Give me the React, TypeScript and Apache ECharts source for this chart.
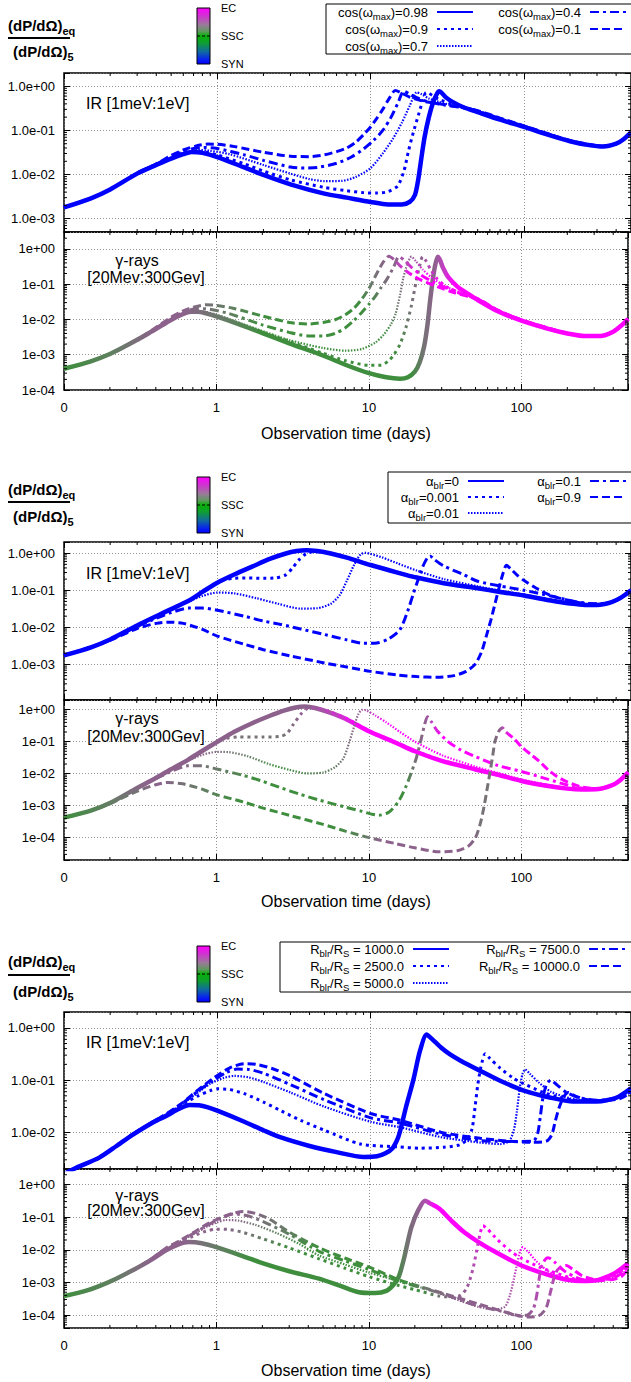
import React, { useEffect, useRef } from 'react';
import * as echarts from 'echarts';

const FONT = '"Liberation Sans", Arial, Helvetica, sans-serif';
const X_MIN = 0.1;
const X_MAX = 500;

// ---------------- legend names ----------------
const P1_NAMES = ['cos(ωmax)=0.98', 'cos(ωmax)=0.9', 'cos(ωmax)=0.7', 'cos(ωmax)=0.4', 'cos(ωmax)=0.1'];
const P1_LABELS = ['{a|cos(ω}{s|max}{a|)=0.98}', '{a|cos(ω}{s|max}{a|)=0.9}', '{a|cos(ω}{s|max}{a|)=0.7}', '{a|cos(ω}{s|max}{a|)=0.4}', '{a|cos(ω}{s|max}{a|)=0.1}'];
const P2_NAMES = ['αblr=0', 'αblr=0.001', 'αblr=0.01', 'αblr=0.1', 'αblr=0.9'];
const P2_LABELS = ['{a|α}{s|blr}{a|=0}', '{a|α}{s|blr}{a|=0.001}', '{a|α}{s|blr}{a|=0.01}', '{a|α}{s|blr}{a|=0.1}', '{a|α}{s|blr}{a|=0.9}'];
const P3_NAMES = ['Rblr/RS = 1000.0', 'Rblr/RS = 2500.0', 'Rblr/RS = 5000.0', 'Rblr/RS = 7500.0', 'Rblr/RS = 10000.0'];
const P3_LABELS = ['{a|R}{s|blr}{a|/R}{s|S}{a| = 1000.0}', '{a|R}{s|blr}{a|/R}{s|S}{a| = 2500.0}', '{a|R}{s|blr}{a|/R}{s|S}{a| = 5000.0}', '{a|R}{s|blr}{a|/R}{s|S}{a| = 7500.0}', '{a|R}{s|blr}{a|/R}{s|S}{a| = 10000.0}'];

// ---------------- panel 1 : IR ----------------
const P1_IR_A = [[0.1,1.8e-3],[0.15,2.9e-3],[0.2,4.6e-3],[0.3,0.0105],[0.4,0.0165],[0.5,0.023],[0.6,0.029],[0.68,0.0325],[0.8,0.031],[1,0.025],[1.5,0.0145],[2,0.0098],[3,0.006],[5,0.0037],[7,0.003],[10,0.0024],[13,0.0021],[16,0.0021],[18,0.0024],[19.5,0.0035],[20.5,0.008],[21.5,0.025],[22.5,0.07],[24,0.2],[25.5,0.42],[27,0.66],[28,0.77],[29,0.72],[31,0.56],[34,0.45],[40,0.34],[50,0.26],[70,0.175],[100,0.12],[150,0.076],[200,0.057],[260,0.047],[330,0.043],[400,0.05],[450,0.064],[500,0.09]];
const P1_IR_B = [[0.1,1.8e-3],[0.15,2.9e-3],[0.2,4.6e-3],[0.3,0.0105],[0.4,0.0167],[0.5,0.0235],[0.6,0.03],[0.7,0.0335],[0.85,0.032],[1,0.028],[1.5,0.0175],[2,0.012],[3,0.0076],[5,0.0051],[7,0.0043],[9,0.0039],[11,0.0038],[13,0.0041],[15,0.0055],[16.5,0.012],[17.7,0.035],[19,0.09],[20.5,0.22],[22,0.5],[23,0.72],[24,0.7],[26,0.58],[29,0.48],[33,0.41],[40,0.345],[50,0.265],[70,0.178],[100,0.121],[150,0.077],[200,0.057],[260,0.047],[330,0.043],[400,0.05],[450,0.064],[500,0.09]];
const P1_IR_C = [[0.1,1.8e-3],[0.15,2.9e-3],[0.2,4.6e-3],[0.3,0.0106],[0.4,0.017],[0.5,0.0245],[0.6,0.031],[0.75,0.036],[0.9,0.0345],[1.2,0.029],[2,0.0165],[3,0.0105],[4,0.0079],[5,0.0071],[6.5,0.0072],[8,0.0088],[10,0.014],[12,0.03],[14,0.065],[16,0.15],[18,0.36],[20,0.73],[21.5,0.66],[24,0.53],[28,0.44],[34,0.37],[42,0.32],[50,0.272],[70,0.182],[100,0.123],[150,0.078],[200,0.058],[260,0.048],[330,0.044],[400,0.05],[450,0.065],[500,0.09]];
const P1_IR_D = [[0.1,1.8e-3],[0.15,2.9e-3],[0.2,4.6e-3],[0.3,0.0107],[0.4,0.0172],[0.5,0.0255],[0.6,0.033],[0.7,0.039],[0.82,0.041],[1,0.039],[1.5,0.028],[2,0.021],[3,0.0148],[3.7,0.014],[4.5,0.0145],[6,0.018],[7.5,0.025],[9,0.038],[10.5,0.06],[12,0.1],[13.5,0.19],[15,0.4],[16.5,0.78],[18,0.66],[20,0.55],[24,0.44],[30,0.38],[40,0.33],[50,0.275],[70,0.185],[100,0.125],[150,0.079],[200,0.058],[260,0.048],[330,0.044],[400,0.05],[450,0.065],[500,0.09]];
const P1_IR_E = [[0.1,1.8e-3],[0.15,2.9e-3],[0.2,4.6e-3],[0.3,0.0108],[0.4,0.0175],[0.5,0.027],[0.6,0.036],[0.72,0.044],[0.87,0.049],[1,0.0485],[1.3,0.043],[2,0.032],[3,0.026],[4,0.0255],[5,0.028],[6,0.033],[7,0.04],[8,0.054],[9,0.08],[10,0.12],[11,0.19],[12,0.3],[13,0.48],[14.5,0.8],[16,0.7],[18,0.57],[22,0.46],[28,0.4],[36,0.35],[50,0.28],[70,0.19],[100,0.127],[150,0.08],[200,0.059],[260,0.049],[330,0.044],[400,0.05],[450,0.065],[500,0.09]];

// ---------------- panel 1 : gamma ----------------
const P1_G_A = [[0.1,4e-4],[0.15,6.5e-4],[0.2,1.05e-3],[0.25,1.7e-3],[0.3,2.6e-3],[0.35,3.8e-3],[0.4,5.3e-3],[0.5,0.0095],[0.6,0.014],[0.68,0.0165],[0.75,0.0165],[0.85,0.015],[1,0.0122],[1.5,0.0066],[2,0.0041],[3,0.0021],[5,0.00095],[7,0.00052],[10,0.0003],[13,0.00023],[16,0.00021],[18,0.00023],[20,0.00033],[21.5,0.0006],[23,0.0017],[24.2,0.007],[25.2,0.035],[26.2,0.13],[27.2,0.35],[28.3,0.6],[29.3,0.48],[30.5,0.3],[33,0.16],[38,0.085],[45,0.052],[52,0.035],[70,0.017],[100,0.0092],[150,0.0054],[200,0.004],[260,0.0034],[330,0.0034],[400,0.0045],[450,0.0066],[500,0.0103]];
const P1_G_B = [[0.1,4e-4],[0.15,6.5e-4],[0.2,1.05e-3],[0.25,1.7e-3],[0.3,2.6e-3],[0.35,3.8e-3],[0.4,5.35e-3],[0.5,0.0097],[0.6,0.0145],[0.7,0.0166],[0.85,0.0155],[1,0.0127],[1.5,0.0069],[2,0.0044],[3,0.0024],[5,0.0011],[7,0.00068],[10,0.0005],[12,0.0005],[13.5,0.00068],[14.6,0.001],[16,0.002],[17.5,0.006],[19,0.025],[20.4,0.12],[21.5,0.33],[22.5,0.6],[23.7,0.45],[25.5,0.25],[28,0.14],[32,0.085],[40,0.055],[52,0.036],[70,0.0175],[100,0.0094],[150,0.0055],[200,0.004],[260,0.0034],[330,0.0034],[400,0.0045],[450,0.0066],[500,0.0103]];
const P1_G_C = [[0.1,4e-4],[0.15,6.5e-4],[0.2,1.05e-3],[0.25,1.7e-3],[0.3,2.6e-3],[0.35,3.85e-3],[0.4,5.4e-3],[0.5,0.0099],[0.6,0.015],[0.72,0.0172],[0.85,0.0162],[1,0.0138],[1.5,0.0073],[2,0.0047],[3,0.0026],[5,0.00155],[7,0.0013],[9,0.00145],[11,0.0022],[12.5,0.0037],[14,0.0075],[15,0.015],[16,0.05],[16.8,0.15],[17.8,0.36],[19,0.6],[20.3,0.45],[22.5,0.26],[26,0.15],[32,0.085],[40,0.058],[52,0.037],[70,0.018],[100,0.0095],[150,0.0056],[200,0.004],[260,0.0034],[330,0.0034],[400,0.0045],[450,0.0066],[500,0.0103]];
const P1_G_D = [[0.1,4e-4],[0.15,6.5e-4],[0.2,1.05e-3],[0.25,1.7e-3],[0.3,2.62e-3],[0.35,3.9e-3],[0.4,5.6e-3],[0.5,0.0105],[0.6,0.0157],[0.75,0.0203],[0.9,0.0195],[1.2,0.0148],[2,0.007],[3,0.0043],[4,0.0034],[5,0.0034],[6,0.004],[7,0.0058],[8,0.0095],[9,0.016],[10,0.027],[11,0.045],[12,0.08],[13,0.13],[14.5,0.3],[15.7,0.6],[17,0.48],[19,0.3],[22,0.18],[27,0.11],[34,0.07],[42,0.05],[52,0.037],[70,0.018],[100,0.0096],[150,0.0056],[200,0.004],[260,0.0034],[330,0.0034],[400,0.0045],[450,0.0066],[500,0.0103]];
const P1_G_E = [[0.1,4e-4],[0.15,6.5e-4],[0.2,1.05e-3],[0.25,1.7e-3],[0.3,2.65e-3],[0.35,4e-3],[0.4,5.9e-3],[0.5,0.0113],[0.6,0.0172],[0.7,0.0218],[0.85,0.026],[1,0.025],[1.3,0.0205],[2,0.0125],[3,0.0082],[4,0.0074],[5,0.0082],[6,0.0098],[7,0.0135],[8,0.021],[9,0.038],[10,0.075],[10.6,0.12],[11.5,0.24],[12.5,0.44],[13.5,0.62],[14.6,0.5],[16,0.33],[18.5,0.2],[22,0.13],[28,0.085],[36,0.058],[45,0.045],[52,0.038],[70,0.0185],[100,0.0097],[150,0.0057],[200,0.004],[260,0.0034],[330,0.0034],[400,0.0045],[450,0.0066],[500,0.0103]];

// ---------------- panel 2 : IR ----------------
const P2_IR_A = [[0.1,1.75e-3],[0.15,2.9e-3],[0.2,4.7e-3],[0.3,0.0112],[0.4,0.02],[0.5,0.031],[0.65,0.052],[0.8,0.09],[1,0.16],[1.3,0.27],[1.7,0.44],[2.2,0.7],[2.8,0.98],[3.3,1.14],[3.8,1.2],[4.5,1.14],[5.5,0.98],[7,0.76],[10,0.48],[15,0.3],[20,0.22],[30,0.155],[50,0.113],[70,0.09],[100,0.072],[150,0.053],[200,0.044],[250,0.04],[300,0.04],[370,0.047],[430,0.063],[500,0.1]];
const P2_IR_B = [[0.1,1.75e-3],[0.15,2.9e-3],[0.2,4.7e-3],[0.3,0.0112],[0.4,0.02],[0.5,0.031],[0.65,0.052],[0.8,0.088],[0.95,0.14],[1.1,0.19],[1.3,0.21],[1.6,0.215],[2,0.21],[2.4,0.215],[2.8,0.26],[3.1,0.4],[3.4,0.65],[3.8,0.97],[4.3,1.1],[5,1.06],[5.5,0.99],[7,0.77],[10,0.49],[15,0.305],[20,0.225],[30,0.158],[50,0.115],[70,0.092],[100,0.073],[150,0.054],[200,0.044],[250,0.04],[300,0.04],[370,0.047],[430,0.063],[500,0.1]];
const P2_IR_C = [[0.1,1.75e-3],[0.15,2.9e-3],[0.2,4.7e-3],[0.3,0.0111],[0.4,0.0195],[0.5,0.03],[0.65,0.05],[0.8,0.07],[1,0.087],[1.3,0.082],[1.8,0.061],[2.5,0.043],[3.5,0.032],[4.5,0.033],[5.5,0.043],[6.3,0.075],[7,0.18],[7.8,0.48],[8.6,0.92],[9.3,1.02],[10,0.96],[12,0.76],[15,0.53],[20,0.34],[30,0.2],[50,0.128],[70,0.098],[100,0.077],[150,0.055],[200,0.045],[250,0.041],[300,0.041],[370,0.047],[430,0.063],[500,0.1]];
const P2_IR_D = [[0.1,1.75e-3],[0.15,2.9e-3],[0.2,4.6e-3],[0.3,0.0105],[0.4,0.0175],[0.5,0.025],[0.65,0.033],[0.8,0.033],[1,0.029],[1.5,0.02],[2,0.0148],[2.6,0.012],[3.5,0.009],[5,0.0064],[7,0.0046],[9,0.0037],[11,0.0038],[13,0.0048],[15.5,0.0085],[17.5,0.028],[19,0.08],[20.5,0.2],[22,0.45],[23.5,0.75],[24.5,0.83],[26,0.68],[30,0.45],[40,0.27],[50,0.175],[70,0.13],[100,0.1],[150,0.07],[200,0.053],[250,0.045],[300,0.043],[370,0.048],[430,0.064],[500,0.1]];
const P2_IR_E = [[0.1,1.75e-3],[0.15,2.9e-3],[0.2,4.5e-3],[0.3,0.0093],[0.4,0.0128],[0.48,0.0138],[0.6,0.0128],[0.8,0.0088],[1,0.0058],[1.5,0.0035],[2,0.0025],[3,0.0017],[5,0.0011],[7,0.00085],[10,0.00065],[15,0.00052],[20,0.00047],[27,0.00045],[35,0.0005],[42,0.00065],[48,0.001],[53,0.0022],[57,0.006],[61,0.016],[65,0.045],[69,0.12],[73,0.28],[77,0.47],[82,0.38],[90,0.26],[100,0.185],[120,0.115],[150,0.072],[200,0.052],[250,0.044],[300,0.042],[370,0.047],[430,0.062],[500,0.092]];

// ---------------- panel 2 : gamma ----------------
const P2_G_A = [[0.1,4.2e-4],[0.15,7e-4],[0.2,1.2e-3],[0.3,3.5e-3],[0.4,7.3e-3],[0.5,0.0135],[0.65,0.027],[0.8,0.05],[1,0.095],[1.3,0.2],[1.7,0.37],[2.2,0.62],[2.8,0.95],[3.3,1.17],[3.8,1.25],[4.5,1.1],[5.5,0.82],[7,0.52],[10,0.21],[15,0.092],[20,0.05],[30,0.025],[50,0.0135],[70,0.0092],[100,0.0059],[150,0.0041],[200,0.0034],[250,0.0032],[320,0.0033],[400,0.0045],[450,0.0066],[500,0.0108]];
const P2_G_B = [[0.1,4.2e-4],[0.15,7e-4],[0.2,1.2e-3],[0.3,3.5e-3],[0.4,7.3e-3],[0.5,0.0135],[0.65,0.027],[0.8,0.05],[0.95,0.085],[1.1,0.12],[1.4,0.14],[2,0.14],[2.6,0.145],[2.9,0.18],[3.2,0.35],[3.6,0.75],[3.9,1.05],[4.4,1.12],[5,1.0],[5.5,0.86],[7,0.55],[10,0.22],[15,0.095],[20,0.052],[30,0.026],[50,0.014],[70,0.0095],[100,0.006],[150,0.0042],[200,0.0034],[250,0.0032],[320,0.0033],[400,0.0045],[450,0.0066],[500,0.0108]];
const P2_G_C = [[0.1,4.2e-4],[0.15,7e-4],[0.2,1.2e-3],[0.3,3.5e-3],[0.4,7.2e-3],[0.5,0.013],[0.65,0.025],[0.8,0.038],[1,0.048],[1.2,0.047],[1.6,0.035],[2.2,0.02],[3,0.0132],[3.9,0.0102],[5,0.0108],[6,0.016],[6.8,0.03],[7.4,0.09],[8,0.3],[8.5,0.7],[9,0.98],[9.6,0.95],[11,0.66],[13,0.4],[16,0.2],[20,0.1],[30,0.038],[50,0.0165],[70,0.0105],[100,0.0066],[150,0.0044],[200,0.0035],[250,0.0033],[320,0.0034],[400,0.0046],[450,0.0067],[500,0.011]];
const P2_G_D = [[0.1,4.2e-4],[0.15,7e-4],[0.2,1.2e-3],[0.3,3.4e-3],[0.4,7e-3],[0.5,0.0115],[0.65,0.0175],[0.8,0.0175],[1,0.014],[1.5,0.0088],[2,0.0058],[2.6,0.0037],[3.5,0.0023],[4.7,0.0015],[7,0.0009],[9,0.00066],[11.6,0.0005],[13.5,0.00062],[15.7,0.0014],[17.5,0.004],[19,0.011],[20.5,0.032],[22,0.12],[23.2,0.35],[24.2,0.6],[25.5,0.44],[28,0.22],[33,0.1],[40,0.055],[50,0.034],[70,0.018],[100,0.0117],[150,0.0066],[200,0.0044],[250,0.0035],[320,0.0034],[400,0.0046],[450,0.0067],[500,0.011]];
const P2_G_E = [[0.1,4.2e-4],[0.15,7e-4],[0.2,1.15e-3],[0.3,2.8e-3],[0.4,4.5e-3],[0.48,0.0053],[0.6,0.0048],[0.8,0.0033],[1,0.0022],[1.5,0.0013],[2,0.00085],[3,0.0005],[5,0.00026],[7,0.00016],[10,0.0001],[15,6.5e-5],[20,4.8e-5],[29,3.6e-5],[38,3.9e-5],[45,5.5e-5],[50,1e-4],[54,3e-4],[57,0.001],[60,0.004],[62,0.01],[65,0.04],[67,0.1],[71,0.21],[75,0.27],[79,0.2],[90,0.12],[100,0.07],[115,0.04],[130,0.025],[150,0.013],[170,0.0083],[200,0.0055],[250,0.0038],[320,0.0034],[400,0.0046],[450,0.0067],[500,0.011]];

// ---------------- panel 3 : IR ----------------
const P3_IR_A = [[0.1,1.6e-3],[0.12,2.1e-3],[0.17,3.3e-3],[0.22,5.5e-3],[0.28,9e-3],[0.38,0.0155],[0.47,0.021],[0.56,0.028],[0.66,0.0335],[0.76,0.033],[0.87,0.03],[1,0.026],[1.5,0.016],[2,0.011],[2.6,0.008],[4,0.0055],[6,0.0042],[9,0.0034],[11,0.0035],[12.5,0.004],[13.9,0.005],[15,0.0075],[15.7,0.0115],[17,0.03],[19,0.1],[21,0.36],[23.2,0.74],[25,0.62],[28.8,0.42],[33,0.31],[38.7,0.235],[52,0.15],[70,0.097],[100,0.063],[150,0.046],[210,0.039],[300,0.039],[400,0.046],[500,0.07]];
const P3_IR_B = [[0.1,1.6e-3],[0.12,2.1e-3],[0.17,3.3e-3],[0.22,5.5e-3],[0.28,9.1e-3],[0.38,0.0158],[0.47,0.022],[0.6,0.035],[0.75,0.05],[0.9,0.063],[1,0.068],[1.2,0.066],[1.5,0.055],[2,0.038],[2.6,0.026],[3.5,0.017],[5,0.011],[8.6,0.006],[15,0.0053],[21,0.005],[30,0.0052],[38,0.0058],[43,0.0075],[46,0.012],[48,0.03],[50,0.08],[52.5,0.18],[56,0.32],[60,0.26],[70,0.17],[85,0.11],[100,0.085],[130,0.06],[170,0.047],[220,0.041],[300,0.04],[400,0.046],[500,0.066]];
const P3_IR_C = [[0.1,1.6e-3],[0.12,2.1e-3],[0.17,3.3e-3],[0.22,5.5e-3],[0.28,9.2e-3],[0.38,0.016],[0.47,0.0225],[0.6,0.036],[0.75,0.058],[0.9,0.085],[1.1,0.11],[1.3,0.12],[1.6,0.113],[2,0.092],[3,0.058],[5,0.031],[10,0.016],[15.7,0.0125],[29,0.0081],[52,0.0064],[70,0.006],[80,0.0068],[86,0.011],[90,0.025],[94,0.07],[98,0.13],[102,0.16],[110,0.13],[125,0.09],[150,0.06],[200,0.045],[260,0.04],[330,0.04],[420,0.047],[500,0.064]];
const P3_IR_D = [[0.1,1.6e-3],[0.12,2.1e-3],[0.17,3.3e-3],[0.22,5.5e-3],[0.28,9.2e-3],[0.38,0.016],[0.47,0.0228],[0.6,0.037],[0.75,0.062],[0.95,0.1],[1.15,0.14],[1.35,0.162],[1.6,0.16],[2,0.135],[3,0.082],[5,0.042],[10,0.019],[15.7,0.015],[29,0.0092],[52,0.007],[90,0.0067],[115,0.0068],[123,0.0095],[128,0.02],[133,0.045],[140,0.08],[150,0.1],[165,0.08],[190,0.058],[230,0.046],[300,0.041],[400,0.045],[500,0.06]];
const P3_IR_E = [[0.1,1.6e-3],[0.12,2.1e-3],[0.17,3.3e-3],[0.22,5.5e-3],[0.28,9.2e-3],[0.38,0.016],[0.47,0.023],[0.6,0.038],[0.75,0.065],[0.95,0.11],[1.2,0.17],[1.5,0.205],[1.8,0.2],[2.3,0.165],[3,0.12],[5,0.055],[10,0.023],[15.7,0.017],[29,0.01],[52,0.0077],[80,0.0068],[113,0.0065],[140,0.0068],[152,0.009],[160,0.016],[170,0.03],[182,0.048],[195,0.058],[215,0.05],[250,0.043],[320,0.04],[420,0.044],[500,0.058]];

// ---------------- panel 3 : gamma ----------------
const P3_G_A = [[0.1,3.8e-4],[0.14,5.6e-4],[0.17,7.7e-4],[0.22,1.3e-3],[0.28,2.3e-3],[0.33,3.5e-3],[0.38,5.2e-3],[0.47,0.0098],[0.56,0.0145],[0.66,0.0172],[0.8,0.0158],[1,0.012],[1.5,0.0063],[2,0.0039],[3,0.0022],[4.7,0.0013],[6.5,0.00078],[8.6,0.0005],[11,0.00047],[13,0.00055],[14.5,0.00085],[15.7,0.0015],[17,0.0055],[18,0.018],[19,0.05],[21,0.16],[23.3,0.32],[25,0.27],[29,0.18],[35,0.075],[42,0.035],[52,0.0176],[70,0.0078],[100,0.0033],[150,0.0017],[200,0.0012],[250,0.0011],[320,0.0012],[400,0.0018],[450,0.0026],[500,0.0038]];
const P3_G_B = [[0.1,3.8e-4],[0.14,5.6e-4],[0.17,7.7e-4],[0.22,1.3e-3],[0.28,2.3e-3],[0.33,3.5e-3],[0.38,5.3e-3],[0.47,0.0102],[0.56,0.0158],[0.7,0.026],[0.85,0.037],[1,0.043],[1.2,0.042],[1.5,0.034],[2,0.022],[3,0.0115],[4.7,0.0053],[7,0.0027],[10,0.0015],[15.7,0.0008],[20,0.0006],[29,0.00038],[35,0.00036],[40,0.0004],[44,0.0007],[48,0.0025],[51,0.01],[53.5,0.03],[56,0.055],[60,0.043],[70,0.02],[85,0.009],[100,0.0055],[130,0.003],[170,0.0019],[220,0.0013],[280,0.0011],[350,0.0012],[420,0.0017],[500,0.0034]];
const P3_G_C = [[0.1,3.8e-4],[0.14,5.6e-4],[0.17,7.7e-4],[0.22,1.3e-3],[0.28,2.3e-3],[0.33,3.55e-3],[0.38,5.4e-3],[0.47,0.0106],[0.56,0.0165],[0.7,0.029],[0.85,0.049],[1,0.068],[1.15,0.082],[1.4,0.078],[1.8,0.058],[2.5,0.032],[3.5,0.015],[4.7,0.0067],[7,0.0035],[10,0.002],[15.7,0.0011],[22,0.0007],[29,0.00046],[40,0.00027],[52,0.00018],[67,0.00015],[78,0.00018],[84,0.0004],[89,0.0012],[94,0.004],[98,0.009],[102,0.012],[110,0.009],[125,0.0045],[150,0.0022],[180,0.0015],[230,0.0012],[290,0.0011],[360,0.0012],[430,0.0017],[500,0.0032]];
const P3_G_D = [[0.1,3.8e-4],[0.14,5.6e-4],[0.17,7.7e-4],[0.22,1.3e-3],[0.28,2.3e-3],[0.33,3.6e-3],[0.38,5.5e-3],[0.47,0.0112],[0.56,0.0172],[0.7,0.031],[0.9,0.061],[1.1,0.099],[1.3,0.126],[1.6,0.11],[2,0.075],[3,0.03],[4.7,0.009],[7,0.0045],[10,0.0025],[15.7,0.0011],[29,0.00048],[52,0.00019],[80,0.00012],[95,9.5e-5],[110,0.0001],[120,0.00016],[126,0.0004],[131,0.0014],[136,0.0032],[143,0.005],[150,0.0057],[165,0.0042],[190,0.0023],[230,0.0014],[290,0.0011],[360,0.0012],[430,0.0016],[500,0.0029]];
const P3_G_E = [[0.1,3.8e-4],[0.14,5.6e-4],[0.17,7.7e-4],[0.22,1.3e-3],[0.28,2.3e-3],[0.33,3.65e-3],[0.38,5.6e-3],[0.47,0.0116],[0.56,0.0178],[0.7,0.033],[0.9,0.067],[1.2,0.12],[1.5,0.15],[1.8,0.13],[2.2,0.09],[3,0.035],[4.7,0.0116],[7,0.0055],[10,0.003],[15.7,0.0012],[29,0.0005],[52,0.00022],[80,0.00012],[108,8.7e-5],[130,9.5e-5],[145,0.00016],[155,0.0005],[163,0.0013],[172,0.0024],[185,0.0031],[197,0.0033],[215,0.0026],[250,0.0016],[310,0.0012],[380,0.0012],[450,0.0015],[500,0.0025]];

// ---------------- palette along gamma curves ----------------
const G = '#3e8e3e';
const GG = '#5e805e';
const GR = '#767276';
const PG = '#8c628c';
const PP = '#b848b8';
const M = '#ff00ff';
const EARLY = [[0.1, G], [0.2, GG], [0.28, GR], [0.4, PG], [0.6, PG], [0.85, GR], [1.3, GG], [2, G]];
const P1_C_A = [...EARLY, [19, G], [23, GR], [27, PG], [30, PP], [36, M], [500, M]];
const P1_C_B = [...EARLY, [15, G], [19, GR], [22, PG], [25, PP], [30, M], [500, M]];
const P1_C_C = [...EARLY, [13, G], [16, GR], [18.5, PG], [21, PP], [25, M], [500, M]];
const P1_C_D = [...EARLY, [10, G], [12.5, GR], [15, PG], [17.5, PP], [22, M], [500, M]];
const P1_C_E = [...EARLY, [8.5, G], [11, GR], [13, PG], [15.5, PP], [20, M], [500, M]];
const P2_C_A = [[0.1, G], [0.18, GG], [0.25, GR], [0.35, PG], [4, PG], [6, PP], [9, M], [500, M]];
const P2_C_B = [[0.1, G], [0.18, GG], [0.25, GR], [0.35, PG], [1.1, PG], [1.4, GR], [2.8, GR], [3.5, PG], [5, PP], [8, M], [500, M]];
const P2_C_C = [[0.1, G], [0.18, GG], [0.25, GR], [0.35, PG], [0.8, PG], [1.2, GR], [1.8, GG], [2.5, G], [5.5, GG], [7, GR], [8.5, PG], [10, PP], [13, M], [500, M]];
const P2_C_D = [[0.1, G], [0.18, GG], [0.25, GR], [0.35, PG], [0.55, PG], [0.8, GR], [1.2, GG], [1.8, G], [17, G], [20, GR], [23, PG], [25.5, PP], [30, M], [500, M]];
const P2_C_E = [[0.1, G], [0.18, GG], [0.3, GR], [0.42, PG], [0.6, GR], [0.9, GG], [1.4, G], [6, G], [9, GG], [12, PG], [45, PG], [55, GR], [65, GR], [72, PG], [76, PP], [85, M], [500, M]];
const P3_C_A = [[0.1, G], [0.2, GG], [0.28, GR], [0.38, PG], [0.6, PG], [0.8, GR], [1.1, GG], [1.7, G], [15, G], [18, GR], [21, PG], [24, PP], [27, M], [500, M]];
const P3_C_B = [[0.1, G], [0.2, GG], [0.28, GR], [0.38, PG], [1.1, PG], [1.5, GR], [2.2, GG], [3, G], [22, G], [30, GR], [42, PG], [50, PP], [56, M], [500, M]];
const P3_C_C = [[0.1, G], [0.2, GG], [0.28, GR], [0.38, PG], [1.2, PG], [1.7, GR], [2.5, GG], [3.5, G], [18, G], [25, GR], [38, PG], [75, PG], [90, PP], [100, M], [500, M]];
const P3_C_D = [[0.1, G], [0.2, GG], [0.28, GR], [0.38, PG], [1.4, PG], [2, GR], [3, GG], [4, G], [18, G], [25, GR], [38, PG], [110, PG], [130, PP], [145, M], [500, M]];
const P3_C_E = [[0.1, G], [0.2, GG], [0.28, GR], [0.38, PG], [1.6, PG], [2.2, GR], [3.2, GG], [4.5, G], [18, G], [25, GR], [38, PG], [140, PG], [165, PP], [185, M], [500, M]];

// ---------------- layout ----------------
const GRID_LEFT = 64;
const GRID_WIDTH = 569;
const GRIDS = [
  { top: 73, height: 159, min: 5e-4, max: 2, long: true },
  { top: 232, height: 158, min: 1e-4, max: 3, long: false },
  { top: 542, height: 158, min: 1.1e-4, max: 2, long: true },
  { top: 700, height: 160, min: 2e-5, max: 2, long: false },
  { top: 1012, height: 157, min: 2e-3, max: 2, long: true },
  { top: 1169, height: 159, min: 4e-5, max: 3, long: false },
];
const NAME_GAPS = [35, 33, 34];
// legend layout: icon x for the two columns, text right edge for the two columns, row centres, frame
const LEGEND_LAYOUT = [
  { iconX: [436, 589], textR: [428, 581], rows: [12, 29, 46], box: [326, 4, 330, 50] },
  { iconX: [467, 589], textR: [459, 581], rows: [481, 497, 513], box: [388, 472, 270, 51] },
  { iconX: [412, 588], textR: [404, 580], rows: [949, 966, 983], box: [280, 942, 370, 50] },
];
const FRACTIONS = [{ num: 25, line: 38, den: 51 }, { num: 489, line: 502, den: 516 }, { num: 961, line: 975, den: 991 }];
const CB_TOPS = [8, 477, 946];
const IR_LABEL_Y = [103, 573, 1042];
const GAMMA_LABEL_Y = [[260, 277], [718, 736], [1195, 1210]];
const MINOR_MANT = [2, 3, 4, 5, 6, 7, 8, 9];

const STYLES = [
  { type: 'solid', width: 4.5 },
  { type: [3, 4], width: 3 },
  { type: [1.5, 1.5], width: 2.2 },
  { type: [9, 4, 3, 4], width: 3 },
  { type: [8, 4], width: 3 },
];

const PANELS = [
  { names: P1_NAMES, labels: P1_LABELS, ir: [P1_IR_A, P1_IR_B, P1_IR_C, P1_IR_D, P1_IR_E], g: [P1_G_A, P1_G_B, P1_G_C, P1_G_D, P1_G_E], c: [P1_C_A, P1_C_B, P1_C_C, P1_C_D, P1_C_E] },
  { names: P2_NAMES, labels: P2_LABELS, ir: [P2_IR_A, P2_IR_B, P2_IR_C, P2_IR_D, P2_IR_E], g: [P2_G_A, P2_G_B, P2_G_C, P2_G_D, P2_G_E], c: [P2_C_A, P2_C_B, P2_C_C, P2_C_D, P2_C_E] },
  { names: P3_NAMES, labels: P3_LABELS, ir: [P3_IR_A, P3_IR_B, P3_IR_C, P3_IR_D, P3_IR_E], g: [P3_G_A, P3_G_B, P3_G_C, P3_G_D, P3_G_E], c: [P3_C_A, P3_C_B, P3_C_C, P3_C_D, P3_C_E] },
];

function gradientFor(stops: any[]) {
  const lo = Math.log10(X_MIN);
  const span = Math.log10(X_MAX) - lo;
  return new echarts.graphic.LinearGradient(0, 0, 1, 0, stops.map(([t, c]) => ({
    offset: Math.min(1, Math.max(0, (Math.log10(t) - lo) / span)),
    color: c,
  })));
}

function isDecade(v: number) {
  const e = Math.log10(v);
  return Math.abs(e - Math.round(e)) < 0.01;
}
function xFmt(v: number) {
  if (!isDecade(v)) return '';
  const e = Math.round(Math.log10(v));
  return e < 0 ? '0' : String(Math.round(v));
}
function yFmt(long: boolean) {
  return (v: number) => {
    if (!isDecade(v)) return '';
    const e = Math.round(Math.log10(v));
    const s = (e < 0 ? '-' : '+') + String(Math.abs(e)).padStart(2, '0');
    return (long ? '1.0e' : '1e') + s;
  };
}

function buildOption() {
  const grid: any[] = [];
  const xAxis: any[] = [];
  const yAxis: any[] = [];
  const series: any[] = [];
  const tickStyle = { color: '#000', width: 1 };
  const split = { show: true, lineStyle: { color: '#777', width: 0.8, type: [1, 2] } };

  GRIDS.forEach((g, gi) => {
    const isGamma = gi % 2 === 1;
    const panel = Math.floor(gi / 2);
    grid.push({ left: GRID_LEFT, width: GRID_WIDTH, top: g.top, height: g.height, show: true, borderColor: '#000', borderWidth: 1.5, backgroundColor: 'transparent' });
    xAxis.push({
      type: 'log', logBase: 10, gridIndex: gi, min: X_MIN, max: X_MAX, position: 'bottom',
      axisLine: { show: false },
      axisTick: { show: true, inside: true, length: 6, lineStyle: tickStyle },
      axisLabel: { show: isGamma, formatter: xFmt, margin: 11, fontSize: 13, color: '#000', fontFamily: FONT },
      splitLine: split,
      name: isGamma ? 'Observation time (days)' : '',
      nameLocation: 'middle', nameGap: NAME_GAPS[panel],
      nameTextStyle: { fontSize: 16, color: '#000', fontFamily: FONT },
    });
    xAxis.push({
      type: 'log', logBase: 10, gridIndex: gi, min: X_MIN, max: X_MAX, position: 'top',
      axisLine: { show: false }, axisTick: { show: true, inside: true, length: 6, lineStyle: tickStyle },
      axisLabel: { show: false }, splitLine: { show: false },
    });
    yAxis.push({
      type: 'log', logBase: 10, gridIndex: gi, min: g.min, max: g.max, position: 'left',
      axisLine: { show: false },
      axisTick: { show: true, inside: true, length: 6, lineStyle: tickStyle },
      axisLabel: { formatter: yFmt(g.long), margin: 9, fontSize: 13, color: '#000', fontFamily: FONT },
      splitLine: split,
    });
    yAxis.push({
      type: 'log', logBase: 10, gridIndex: gi, min: g.min, max: g.max, position: 'right',
      axisLine: { show: false }, axisTick: { show: true, inside: true, length: 6, lineStyle: tickStyle },
      axisLabel: { show: false }, splitLine: { show: false },
    });

    // minor ticks (2..9 in every decade)
    const ticks: number[][] = [];
    for (let e = -1; e <= 2; e++) {
      MINOR_MANT.forEach((m) => {
        const v = m * Math.pow(10, e);
        if (v > X_MIN && v < X_MAX) ticks.push([v, g.min * 1.5, 0]);
      });
    }
    for (let e = Math.floor(Math.log10(g.min)); e <= Math.floor(Math.log10(g.max)); e++) {
      MINOR_MANT.forEach((m) => {
        const v = m * Math.pow(10, e);
        if (v > g.min && v < g.max) ticks.push([1, v, 1]);
      });
    }
    series.push({
      type: 'custom', xAxisIndex: 2 * gi, yAxisIndex: 2 * gi, silent: true, clip: false, z: 5,
      dimensions: ['x', 'y', 'k'], encode: { x: 0, y: 1 },
      data: ticks,
      renderItem: (params: any, api: any) => {
        const cs = params.coordSys;
        const p = api.coord([api.value(0), api.value(1)]);
        const st = { stroke: '#000', lineWidth: 1 };
        if (api.value(2) === 0) {
          return {
            type: 'group', children: [
              { type: 'line', shape: { x1: p[0], y1: cs.y + cs.height, x2: p[0], y2: cs.y + cs.height - 3 }, style: st },
              { type: 'line', shape: { x1: p[0], y1: cs.y, x2: p[0], y2: cs.y + 3 }, style: st },
            ],
          };
        }
        return {
          type: 'group', children: [
            { type: 'line', shape: { x1: cs.x, y1: p[1], x2: cs.x + 3, y2: p[1] }, style: st },
            { type: 'line', shape: { x1: cs.x + cs.width, y1: p[1], x2: cs.x + cs.width - 3, y2: p[1] }, style: st },
          ],
        };
      },
    });
  });

  PANELS.forEach((P, p) => {
    P.names.forEach((name, k) => {
      const st = STYLES[k];
      series.push({
        type: 'line', name, xAxisIndex: 4 * p, yAxisIndex: 4 * p, data: P.ir[k],
        symbol: 'none', smooth: 0.25, silent: true, z: 3,
        itemStyle: { color: '#0000ff' },
        lineStyle: { color: '#0000ff', width: st.width, type: st.type, cap: 'butt' },
      });
      series.push({
        type: 'line', name: 'γ ' + name, xAxisIndex: 4 * p + 2, yAxisIndex: 4 * p + 2, data: P.g[k],
        symbol: 'none', smooth: 0.25, silent: true, z: 3,
        itemStyle: { color: PG },
        lineStyle: { color: gradientFor(P.c[k]), width: st.width, type: st.type, cap: 'butt' },
      });
    });
  });

  // one legend per entry (icon only); the entry texts are drawn right-aligned beside them
  const legend: any[] = [];
  const elements: any[] = [];
  const legRich = {
    a: { fontSize: 13, lineHeight: 16, fontFamily: FONT, fill: '#000' },
    s: { fontSize: 9.5, height: 6.5, verticalAlign: 'bottom', fontFamily: FONT, fill: '#000' },
  };
  PANELS.forEach((P, p) => {
    const L = LEGEND_LAYOUT[p];
    P.names.forEach((name, k) => {
      const col = k < 3 ? 0 : 1;
      const row = k < 3 ? k : k - 3;
      legend.push({
        data: [name], orient: 'vertical', left: L.iconX[col], top: L.rows[row] - 7,
        itemWidth: 36, itemHeight: 14, padding: 0, align: 'left', selectedMode: false,
        itemStyle: { opacity: 0, borderWidth: 0 },
        formatter: () => '',
        textStyle: { fontSize: 1 },
      });
      elements.push({
        type: 'text', style: { x: L.textR[col], y: L.rows[row], text: P.labels[k], rich: legRich, align: 'right', verticalAlign: 'middle' },
      });
    });
  });

  const fracRich = {
    a: { fontSize: 15, fontWeight: 'bold', lineHeight: 18, fontFamily: FONT, fill: '#000' },
    s: { fontSize: 11, fontWeight: 'bold', height: 7, verticalAlign: 'bottom', fontFamily: FONT, fill: '#000' },
  };
  const cbGrad = () => new echarts.graphic.LinearGradient(0, 0, 0, 1, [
    { offset: 0, color: '#ff00ff' }, { offset: 0.14, color: '#d032d0' }, { offset: 0.3, color: '#9a7a9a' },
    { offset: 0.42, color: '#5e9a5e' }, { offset: 0.5, color: '#06b006' }, { offset: 0.62, color: '#10a030' },
    { offset: 0.78, color: '#106aa0' }, { offset: 0.92, color: '#0820f0' }, { offset: 1, color: '#0000ff' },
  ]);
  for (let p = 0; p < 3; p++) {
    const F = FRACTIONS[p];
    elements.push({ type: 'text', style: { x: 8, y: F.num, text: '{a|(dP/dΩ)}{s|eq}', rich: fracRich, verticalAlign: 'middle', align: 'left' } });
    elements.push({ type: 'line', shape: { x1: 8, y1: F.line, x2: 70, y2: F.line }, style: { stroke: '#000', lineWidth: 2 } });
    elements.push({ type: 'text', style: { x: 13, y: F.den, text: '{a|(dP/dΩ)}{s|5}', rich: fracRich, verticalAlign: 'middle', align: 'left' } });
    const cb = CB_TOPS[p];
    elements.push({ type: 'rect', shape: { x: 197, y: cb, width: 13, height: 56 }, style: { fill: cbGrad(), stroke: '#000', lineWidth: 1 } });
    elements.push({ type: 'line', shape: { x1: 197, y1: cb + 28, x2: 210, y2: cb + 28 }, style: { stroke: '#000', lineWidth: 1, lineDash: [3, 2] } });
    [['EC', 0], ['SSC', 28], ['SYN', 56]].forEach(([t, dy]: any) => {
      elements.push({ type: 'text', style: { x: 221, y: cb + dy, text: t, fontSize: 11, fontFamily: FONT, fill: '#000', verticalAlign: 'middle', align: 'left' } });
    });
    const b = LEGEND_LAYOUT[p].box;
    elements.push({ type: 'rect', shape: { x: b[0], y: b[1], width: b[2], height: b[3] }, style: { fill: 'none', stroke: '#000', lineWidth: 1 } });
    elements.push({ type: 'text', style: { x: 86, y: IR_LABEL_Y[p], text: 'IR [1meV:1eV]', fontSize: 16, fontFamily: FONT, fill: '#000', verticalAlign: 'middle', align: 'left' } });
    elements.push({ type: 'text', style: { x: 137, y: GAMMA_LABEL_Y[p][0], text: 'γ-rays', fontSize: 16, fontFamily: FONT, fill: '#000', verticalAlign: 'middle', align: 'center' } });
    elements.push({ type: 'text', style: { x: 146, y: GAMMA_LABEL_Y[p][1], text: '[20Mev:300Gev]', fontSize: 16, fontFamily: FONT, fill: '#000', verticalAlign: 'middle', align: 'center' } });
  }

  return {
    animation: false,
    backgroundColor: '#ffffff',
    textStyle: { fontFamily: FONT },
    grid, xAxis, yAxis, series, legend,
    graphic: { elements },
  };
}

export default function App() {
  const ref = useRef<HTMLDivElement>(null);
  useEffect(() => {
    if (!ref.current) return;
    const chart = echarts.init(ref.current, null, { renderer: 'svg' });
    chart.setOption(buildOption() as any);
    return () => chart.dispose();
  }, []);
  return <div ref={ref} style={{ position: 'absolute', left: 0, top: 0, width: 631, height: 1382, background: '#fff' }} />;
}
